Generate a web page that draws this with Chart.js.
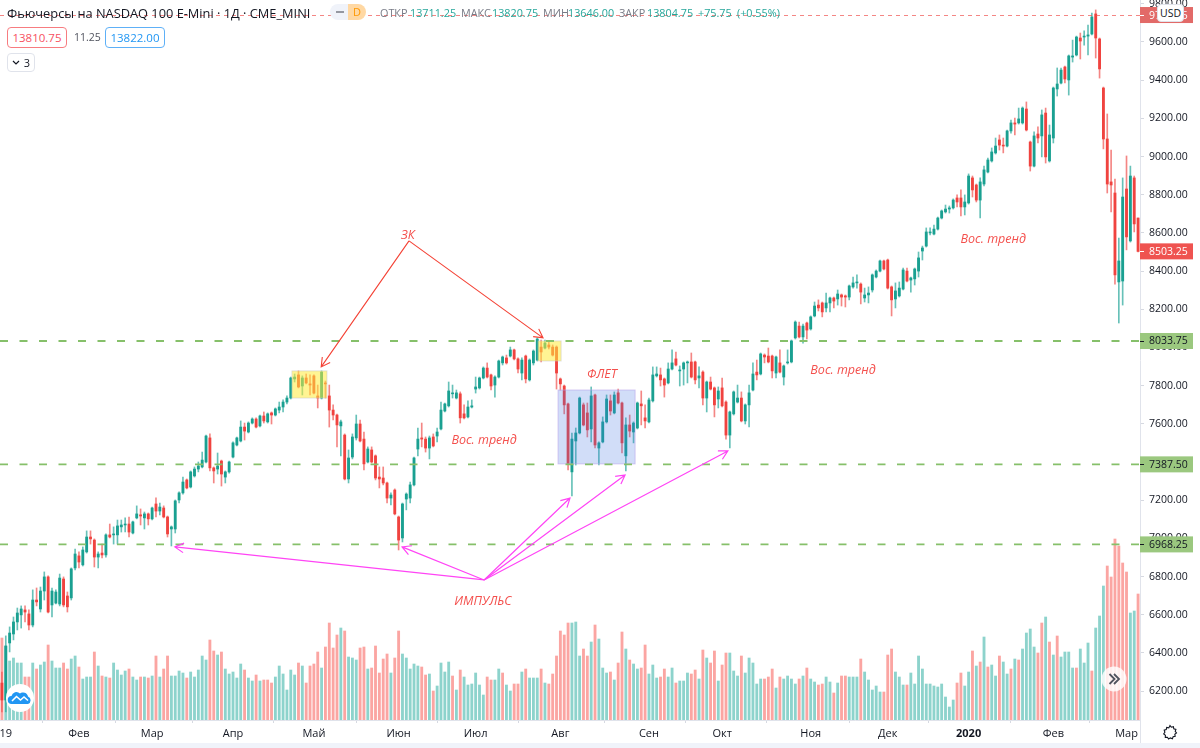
<!DOCTYPE html>
<html lang="ru">
<head>
<meta charset="utf-8">
<title>Фьючерсы на NASDAQ 100 E-Mini</title>
<script src="https://cdn.jsdelivr.net/npm/chart.js@4"></script>
<style>
html,body{margin:0;padding:0;background:#fff;width:1200px;height:748px;overflow:hidden}
#wrap{position:relative;width:1200px;height:748px;font-family:"Open Sans",sans-serif;color:#131722}
canvas{position:absolute;left:0;top:0}
.t{position:absolute;white-space:nowrap;line-height:16px;font-size:10.8px}
.gray{color:#787b86}.teal{color:#26a69a}
.box{position:absolute;box-sizing:border-box;border-radius:4px;text-align:center;background:#fff;white-space:nowrap}
.abs{position:absolute}
</style>
</head>
<body>
<div id="wrap">
<canvas id="c" width="1200" height="748"></canvas>

<div class="t" style="left:7px;top:5px;font-size:12.8px;color:#131722">Фьючерсы на NASDAQ 100 E-Mini · 1Д · CME_MINI</div>
<div class="abs" style="left:330px;top:4px;width:18px;height:16px;background:#f0f3fa;border-radius:8px 0 0 8px"></div>
<div class="abs" style="left:336px;top:11px;width:8px;height:2px;background:#9598a1"></div>
<div class="abs" style="left:348px;top:4px;width:18px;height:16px;background:#ffd8a3;border-radius:0 8px 8px 0;color:#ff9800;font-size:11px;line-height:16px;text-align:center">D</div>

<div class="t gray" style="left:380px;top:5px">ОТКР</div><div class="t teal" style="left:410px;top:5px">13711.25</div>
<div class="t gray" style="left:461px;top:5px">МАКС</div><div class="t teal" style="left:492px;top:5px">13820.75</div>
<div class="t gray" style="left:543px;top:5px">МИН</div><div class="t teal" style="left:568px;top:5px">13646.00</div>
<div class="t gray" style="left:619px;top:5px">ЗАКР</div><div class="t teal" style="left:647px;top:5px">13804.75</div>
<div class="t teal" style="left:698px;top:5px">+75.75</div><div class="t teal" style="left:737px;top:5px">(+0.55%)</div>

<div class="box" style="left:7px;top:27px;width:60px;height:21px;border:1px solid #f77c80;color:#f7525f;font-size:11.5px;line-height:19px">13810.75</div>
<div class="t" style="left:74px;top:29px;font-size:10.5px;color:#50535e">11.25</div>
<div class="box" style="left:105px;top:27px;width:60px;height:21px;border:1px solid #5eb0f7;color:#2196f3;font-size:11.5px;line-height:19px">13822.00</div>
<div class="box" style="left:7px;top:53px;width:28px;height:19px;border:1px solid #e0e3eb;font-size:11px;line-height:17px;color:#131722"><svg width="8" height="6" viewBox="0 0 8 6" style="margin-right:4px;vertical-align:1px"><path d="M1 1l3 3 3-3" fill="none" stroke="#131722" stroke-width="1.2"/></svg>3</div>

<div class="abs" style="left:1140px;top:720px;width:1px;height:23px;background:#e0e3eb"></div>
<div class="abs" style="left:0;top:743px;width:1200px;height:5px;background:#f0f3fa"></div>
<div class="box" style="left:1157px;top:4px;width:27px;height:18px;border:1px solid #e0e3eb;font-size:10.5px;line-height:16px;color:#131722">USD</div>

<svg class="abs" style="left:6px;top:684px" width="28" height="28" viewBox="0 0 28 28">
<circle cx="14" cy="14" r="14" fill="#fff"/>
<path d="M6 20a4 4 0 0 1-.5-8 5 5 0 0 1 8.500-2.500 5 5 0 0 1 8 3 4 4 0 0 1 0 7.500z" fill="#2196f3"/>
<path d="M6 17l4.500-4.500 4 3.500 3.500-3 4 3.500" fill="none" stroke="#fff" stroke-width="1.600"/>
</svg>
<svg class="abs" style="left:1101px;top:666px" width="26" height="26" viewBox="0 0 26 26">
<circle cx="13" cy="13" r="12.500" fill="#fff" fill-opacity=".82"/>
<path d="M8.500 8l5 5-5 5M13 8l5 5-5 5" fill="none" stroke="#50535e" stroke-width="1.800"/>
</svg>
<svg class="abs" style="left:1161px;top:723px" width="18" height="18" viewBox="0 0 18 18">
<path d="M9 2.500l1.300 1.700 2.100-.5.400 2.100 2.100.6-.7 2 1.300 1.600-1.700 1.300.4 2.100-2.100.3-.7 2-2-.8-1.800 1.100-1.200-1.800-2.100.1.100-2.100-1.700-1.300 1.200-1.700-.7-2 2-.6.500-2.100 2.100.4z" fill="none" stroke="#131722" stroke-width="1.100"/>
</svg>
</div>

<script>
const opens = [
6242,6153,6452,6499,6562,6599,6625,6604,6546,6677,
6630,6724,6798,6651,6661,6656,6787,6698,6688,6845,
6908,6861,6929,7007,6991,6902,6923,6913,7018,7018,
7018,7060,7070,7075,7028,7107,7123,7107,7128,7102,
7180,7143,7159,7112,7049,7049,7201,7238,7306,7269,
7327,7363,7374,7400,7526,7369,7363,7405,7321,7348,
7426,7489,7510,7583,7557,7604,7625,7589,7641,7610,
7657,7646,7672,7688,7714,7735,7835,7856,7798,7840,
7809,7851,7746,7735,7814,7746,7672,7646,7589,7541,
7311,7426,7526,7599,7520,7400,7463,7432,7321,7316,
7290,7211,7253,7112,7002,7206,7211,7280,7468,7526,7520,
7473,7531,7536,7573,7667,7694,7757,7735,7757,7652,
7636,7688,7782,7788,7840,7892,7856,7803,7845,7919,
7945,7955,7987,7940,7866,7955,7830,7919,7934,8002,
7997,8013,8002,8002,7835,7798,7704,7348,7510,7552,
7699,7657,7573,7751,7473,7505,7610,7720,7657,7762,
7709,7432,7594,7557,7578,7704,7631,7610,7720,7851,
7856,7835,7814,7887,7940,7877,7887,7919,7924,7924,
7840,7871,7735,7819,7788,7730,7788,7714,7541,7652,
7714,7735,7615,7699,7777,7871,7861,7960,7955,7955,7866,
7919,7845,7919,7924,8050,8112,8055,8128,8097,8165,
8222,8233,8207,8233,8259,8254,8275,8270,8264,8317,
8338,8332,8259,8275,8301,8369,8400,8453,8458,8317,
8254,8270,8306,8400,8353,8359,8400,8505,8531,8600,
8594,8620,8678,8710,8725,8731,8783,8783,8736,8757,
8888,8851,8772,8856,8919,8977,9019,9087,9060,9055,
9134,9176,9176,9176,9249,9076,8950,9118,9108,9228,
8977,9097,9354,9385,9469,9401,9521,9532,9621,
9626,9631,9642,9747,9616,9359,9092,8867,8809,8343,8348,8830,8558,8888,8678];
const highs = [
6300,6489,6536,6588,6635,6646,6646,6625,6730,6740,
6745,6824,6803,6740,6730,6813,6798,6719,6845,6944,
6929,6955,7039,7039,6997,6929,6970,7023,7075,7060,
7096,7096,7107,7112,7091,7170,7154,7138,7133,7164,
7212,7185,7170,7117,7065,7201,7243,7321,7311,7353,
7374,7400,7452,7541,7547,7374,7447,7410,7353,7405,
7505,7531,7615,7604,7610,7631,7631,7646,7662,7657,
7662,7683,7714,7725,7746,7845,7861,7877,7851,7861,
7856,7856,7803,7877,7824,7803,7699,7651,7620,7547,
7463,7547,7646,7620,7557,7479,7479,7437,7374,7374,
7295,7238,7259,7117,7185,7238,7295,7426,7578,7604,7531,
7536,7547,7578,7714,7709,7819,7803,7777,7767,7699,
7720,7725,7845,7845,7898,7919,7861,7851,7934,7955,
7960,8002,7992,7945,7945,7960,7940,7987,8050,8039,
8039,8029,8013,8008,7840,7803,7709,7552,7578,7740,
7709,7709,7793,7756,7505,7636,7751,7751,7767,7782,
7714,7631,7646,7610,7714,7772,7699,7735,7898,7898,
7892,7840,7919,7987,7976,7903,7924,7929,7971,7929,
7898,7877,7824,7845,7793,7793,7840,7720,7667,7772,
7803,7767,7704,7803,7919,7934,7971,7966,7997,7960,7955,
7987,7908,7987,8039,8139,8133,8123,8133,8165,8238,
8249,8238,8285,8264,8264,8301,8280,8275,8327,8369,
8380,8338,8311,8317,8385,8406,8458,8458,8463,8322,
8338,8343,8416,8416,8369,8416,8500,8531,8626,8626,
8641,8683,8720,8746,8741,8778,8799,8825,8799,8909,
8898,8856,8888,8950,8992,9045,9097,9113,9097,9139,
9191,9202,9254,9260,9286,9081,9129,9155,9244,9254,
9165,9364,9464,9464,9474,9532,9610,9631,9647,
9658,9689,9752,9768,9621,9364,9223,9034,8882,8573,8888,9003,8950,8898,8678];
const lows = [
6091,6091,6405,6468,6520,6530,6562,6520,6536,6646,
6614,6677,6609,6588,6656,6646,6641,6614,6677,6834,
6845,6855,6923,6970,6850,6845,6897,6902,7002,6970,
6970,7033,7033,7007,7023,7102,7070,7049,7070,7096,
7112,7123,7107,7007,6960,7028,7185,7232,7259,7264,
7321,7348,7369,7395,7353,7290,7337,7274,7290,7342,
7421,7484,7505,7515,7552,7599,7578,7583,7604,7604,
7599,7641,7657,7662,7704,7730,7819,7788,7751,7809,
7751,7756,7683,7730,7735,7583,7620,7479,7432,7306,
7290,7416,7515,7505,7358,7395,7395,7306,7264,7280,
7185,7175,7123,6939,6981,7149,7185,7274,7432,7479,7452,
7416,7479,7505,7568,7662,7688,7735,7730,7604,7625,
7631,7683,7761,7782,7835,7840,7777,7740,7840,7908,
7913,7950,7934,7866,7830,7814,7824,7908,7929,7924,
7992,7992,7955,7782,7777,7652,7358,7222,7384,7547,
7589,7531,7505,7473,7384,7500,7604,7646,7652,7704,
7448,7353,7531,7500,7573,7594,7578,7604,7714,7845,
7798,7740,7809,7882,7903,7798,7803,7814,7840,7809,
7788,7699,7662,7777,7636,7683,7688,7520,7473,7646,
7709,7610,7599,7583,7772,7830,7856,7919,7919,7840,7840,
7866,7803,7913,7919,8044,8050,8023,8044,8091,8160,
8191,8160,8186,8186,8207,8222,8217,8212,8249,8311,
8311,8228,8238,8233,8290,8364,8395,8406,8306,8165,
8207,8264,8301,8343,8290,8327,8369,8458,8526,8589,
8589,8615,8673,8704,8704,8725,8736,8689,8694,8751,
8788,8762,8678,8846,8914,8971,9013,9034,9019,9050,
9123,9113,9170,9170,9134,8924,8945,9071,8998,8966,
8971,9071,9317,9380,9385,9322,9495,9527,9511,
9584,9532,9637,9516,9411,9040,8809,8710,8332,8128,8222,8511,8552,8605,8500];
const closes = [
6153,6436,6504,6562,6609,6630,6614,6546,6677,6667,
6724,6798,6614,6724,6719,6792,6651,6641,6840,6918,
6876,6939,7007,6997,6902,6918,6913,7018,7007,7023,
7065,7070,7075,7033,7086,7128,7117,7128,7102,7159,
7143,7164,7112,7023,7060,7196,7238,7295,7264,7348,
7363,7379,7410,7536,7369,7353,7379,7337,7348,7400,
7500,7526,7583,7562,7604,7625,7583,7641,7615,7652,
7646,7678,7688,7714,7735,7840,7845,7793,7840,7814,
7803,7761,7735,7871,7809,7672,7646,7594,7610,7311,
7421,7531,7599,7510,7390,7468,7400,7316,7311,7290,
7211,7227,7128,6991,7180,7232,7280,7421,7520,7520,7473,
7526,7484,7557,7672,7704,7772,7762,7762,7631,7631,
7688,7694,7793,7840,7892,7845,7798,7845,7929,7950,
7919,7987,7940,7887,7934,7835,7934,7981,8044,7976,
8023,8002,7960,7866,7809,7699,7390,7520,7552,7735,
7594,7568,7746,7489,7500,7610,7730,7667,7751,7709,
7500,7594,7562,7604,7709,7694,7615,7725,7856,7861,
7830,7803,7887,7919,7908,7882,7919,7924,7845,7830,
7851,7735,7819,7782,7699,7772,7694,7541,7662,7767,
7735,7615,7699,7762,7861,7856,7966,7950,7924,7877,7950,
7871,7903,7924,8034,8133,8055,8112,8091,8160,8217,
8207,8186,8233,8259,8243,8280,8264,8264,8322,8338,
8343,8290,8275,8285,8380,8400,8453,8411,8311,8249,
8296,8311,8406,8348,8364,8411,8469,8521,8605,8605,
8620,8678,8715,8725,8731,8772,8762,8736,8762,8898,
8825,8772,8867,8930,8982,9024,9055,9060,9055,9134,
9176,9170,9197,9254,9139,8950,9108,9097,9218,8998,
9113,9359,9380,9453,9406,9527,9527,9626,9605,
9631,9637,9731,9621,9459,9092,8856,8851,8380,8453,8788,8579,8898,8647,8503];
const volumes = [
82,74,59,62,57,57,43,43,57,51,55,58,75,59,52,52,57,51,61,64,53,41,43,43,68,54,44,43,42,57,50,45,49,51,43,40,43,43,42,44,64,43,51,64,44,44,49,47,42,48,43,50,64,60,80,69,65,68,51,46,48,42,56,50,42,39,45,39,40,40,37,43,54,46,30,50,45,57,
54,37,54,56,68,52,73,97,72,85,92,89,63,62,60,72,73,51,52,74,47,61,66,47,62,89,66,62,51,56,54,53,45,46,29,34,57,48,58,44,30,50,43,35,36,47,35,25,43,40,40,51,47,35,29,36,36,48,51,42,42,42,51,37,36,46,64,89,85,97,97,98,64,71,64,78,95,81,52,47,48,40,57,88,71,60,56,51,52,75,46,55,42,43,51,43,52,37,39,39,47,46,50,
41,70,62,57,69,39,55,67,67,49,44,64,47,62,57,36,41,41,43,51,32,43,41,44,41,36,41,44,52,41,38,35,36,43,38,27,37,44,44,43,43,43,61,48,40,30,34,28,28,65,71,48,43,35,35,47,36,64,51,36,36,34,33,36,23,13,20,37,47,34,48,69,54,58,83,53,55,44,64,58,46,51,61,60,71,87,91,73,67,
97,103,78,65,84,63,68,68,52,52,71,57,77,49,92,104,134,154,143,181,174,157,148,107,109,126];
const volumeSides = (
"RGGGGGRRGRGGRGGGRRGGRGGGRGRGRGGGGRGGRGRGRGRRGGGGRGGGGGRRGRGGGGGRGGRGRRRGGGGGGR"+
"GRRRRGRRRRGRGGGRRGRRRRRGRRGGGGGRRGRGGGGRGRGGGGGGRRGGRGGRRGRGGGRGRRRRRRGGGRRGRGGGRGRRGRGGRRGGGRRGGRGGGRR"+
"GRGRRGRRGGGRGGGGGRRRGRGGGGRGRGGRRGGRGRRGGGRGGGGGRRRGGGRGGGGGGGGGGGGRRGGRGRGRGGRGGRGRGGGGRRGR"+
"GRGGGGRGGGRGGGRRRRRRGGRGRR").split("");

const labelIdx = [1,20,39,60,81,103,123,145,168,187,210,230,251,273,292];
const tickLabels = ["19","Фев","Мар","Апр","Май","Июн","Июл","Авг","Сен","Окт","Ноя","Дек","2020","Фев","Мар"];
const yearIdx = 251;
const priceTicks = [6200,6400,6600,6800,7000,7200,7400,7600,7800,8000,8200,8400,8600,8800,9000,9200,9400,9600,9800];
const levelValues = [8033.75,7387.50,6968.25];
const levelLabels = ["8033.75","7387.50","6968.25"];
const sessionHigh = 9741.25;
const lastPrice = 8503.25;
const zoneStart = [75.3,139.2,144.4];
const zoneEnd = [84.4,145.2,164.4];
const zoneTop = [7877,8034,7777];
const zoneBottom = [7735,7929,7390];
const redFromIdx = [105.7,105.7];
const redFromVal = [8558,8558];
const redToIdx = [82.9,140.5];
const redToVal = [7898,8050];
const pinkFromIdx = 125.2, pinkFromVal = 6782;
const pinkToIdx = [44.9,103.9,147.5,161.8,188.5];
const pinkToVal = [6955,6955,7211,7332,7458];
const noteText = ["ЗК","ИМПУЛЬС","ФЛЕТ","Вос. тренд","Вос. тренд","Вос. тренд"];
const noteIdx = [105.4,124.9,155.8,125.2,218.4,257.4];
const noteVal = [8589,6672,7856,7515,7882,8568];

const UP="#1aa091", DOWN="#f0433f", UPW="rgba(38,166,154,.7)", DOWNW="rgba(239,83,80,.7)", UPV="#8dd3cc", DOWNV="#fba5a2";
const cats = opens.map((_,i)=>i);
const candleColors = opens.map((o,i)=>closes[i]>=o?UP:DOWN);
const wickColors = opens.map((o,i)=>closes[i]>=o?UPW:DOWNW);

function arrow(ctx,x0,y0,x1,y1,color,w){
  const a=Math.atan2(y1-y0,x1-x0),L=10,s=0.5;
  ctx.strokeStyle=color;ctx.lineWidth=w;ctx.setLineDash([]);
  ctx.beginPath();ctx.moveTo(x0,y0);ctx.lineTo(x1,y1);
  ctx.moveTo(x1-L*Math.cos(a-s),y1-L*Math.sin(a-s));ctx.lineTo(x1,y1);
  ctx.lineTo(x1-L*Math.cos(a+s),y1-L*Math.sin(a+s));ctx.stroke();
}
const overlay={id:"overlay",
  afterDatasetsDraw(ch){
    const c=ch.ctx,x=ch.scales.x,y=ch.scales.y,A=ch.chartArea;
    c.save();c.beginPath();c.rect(A.left,A.top,A.right-A.left,A.bottom-A.top);c.clip();
    zoneStart.forEach((s,i)=>{
      const l=x.getPixelForValue(s),r=x.getPixelForValue(zoneEnd[i]),t=y.getPixelForValue(zoneTop[i]),b=y.getPixelForValue(zoneBottom[i]);
      c.fillStyle=i<2?"rgba(255,235,59,.55)":"rgba(61,112,224,.24)";
      c.strokeStyle=i<2?"rgba(200,200,200,.5)":"rgba(185,165,235,.6)";
      c.lineWidth=1;c.fillRect(l,t,r-l,b-t);c.strokeRect(l,t,r-l,b-t);
    });
    c.strokeStyle="#86c06a";c.lineWidth=1.8;c.setLineDash([8,11.500]);
    levelValues.forEach(v=>{const p=y.getPixelForValue(v);c.beginPath();c.moveTo(A.left,p);c.lineTo(A.right,p);c.stroke();});
    c.strokeStyle="rgba(239,83,80,.7)";c.lineWidth=1;c.setLineDash([4,4]);
    let p=Math.round(y.getPixelForValue(sessionHigh))+.5;c.beginPath();c.moveTo(A.left,p);c.lineTo(A.right,p);c.stroke();
    redToIdx.forEach((v,i)=>arrow(c,x.getPixelForValue(redFromIdx[i]),y.getPixelForValue(redFromVal[i]),x.getPixelForValue(v),y.getPixelForValue(redToVal[i]),"#f44336",1.1));
    pinkToIdx.forEach((v,i)=>arrow(c,x.getPixelForValue(pinkFromIdx),y.getPixelForValue(pinkFromVal),x.getPixelForValue(v),y.getPixelForValue(pinkToVal[i]),"#ff45f5",1.2));
    c.fillStyle="#f4504d";c.font='italic 12.5px "Open Sans"';c.textAlign="center";c.textBaseline="middle";
    noteText.forEach((t,i)=>c.fillText(t,x.getPixelForValue(noteIdx[i]),y.getPixelForValue(noteVal[i])));
    c.restore();
  },
  afterDraw(ch){
    const c=ch.ctx,y=ch.scales.y,R=ch.chartArea.right;
    c.save();c.textAlign="left";c.textBaseline="middle";c.font='10.5px "Open Sans"';
    const tag=(v,label,bg,fg)=>{const p=y.getPixelForValue(v);
      c.fillStyle=bg;c.fillRect(R,p-8,53,16);
      c.fillStyle=fg;c.fillText(label,R+9,p+.5);
      c.strokeStyle=fg;c.lineWidth=1;c.beginPath();c.moveTo(R,Math.round(p)+.5);c.lineTo(R+4,Math.round(p)+.5);c.stroke();};
    levelValues.forEach((v,i)=>tag(v,levelLabels[i],"#9bc87f","#131722"));
    tag(lastPrice,lastPrice.toFixed(2),"#ef5350","#ffffff");
    tag(sessionHigh,sessionHigh.toFixed(2),"#e26a68","#ffffff");
    c.restore();
  }
};

new Chart(document.getElementById("c"),{
  type:"bar",
  data:{labels:cats,datasets:[
    {label:"Тело",order:1,yAxisID:"y",barThickness:2.2,
     data:opens.map((o,i)=>[o,closes[i]]),backgroundColor:candleColors},
    {label:"Тень",order:2,yAxisID:"y",barThickness:1,
     data:lows.map((l,i)=>[l,highs[i]]),backgroundColor:wickColors},
    {label:"Объём",order:3,yAxisID:"v",barThickness:2.2,
     data:volumes,backgroundColor:volumeSides.map(s=>s==="G"?UPV:DOWNV)}
  ]},
  options:{
    responsive:false,animation:false,devicePixelRatio:1,
    layout:{padding:0},
    datasets:{bar:{grouped:false,borderWidth:0,borderSkipped:false}},
    plugins:{legend:{display:false},tooltip:{enabled:false},title:{display:false}},
    scales:{
      x:{type:"category",offset:true,
        afterBuildTicks:s=>{s.ticks=labelIdx.map(v=>({value:v}));},
        afterFit:s=>{s.height=28;s.paddingLeft=0;s.paddingRight=0;},
        border:{color:"#e0e3eb"},
        grid:{drawOnChartArea:false,tickLength:3,tickColor:"#d6d9e1"},
        ticks:{autoSkip:false,maxRotation:0,padding:4,color:"#131722",
          font:ctx=>({family:'"Open Sans"',size:11,weight:ctx.tick&&ctx.tick.value===yearIdx?"bold":"normal"}),
          callback:v=>tickLabels[labelIdx.indexOf(v)]}},
      y:{type:"linear",position:"right",min:6048.4,max:9820,
        afterBuildTicks:s=>{s.ticks=priceTicks.map(v=>({value:v}));},
        afterFit:s=>{s.width=60;s.paddingTop=0;s.paddingBottom=0;},
        border:{color:"#e0e3eb"},
        grid:{drawOnChartArea:false,tickLength:4,tickColor:"#d6d9e1"},
        ticks:{padding:5,color:"#131722",font:{family:'"Open Sans"',size:10.5},callback:v=>v.toFixed(2)}},
      v:{type:"linear",display:false,min:0,max:720}
    }
  },
  plugins:[overlay]
});
</script>
</body>
</html>
